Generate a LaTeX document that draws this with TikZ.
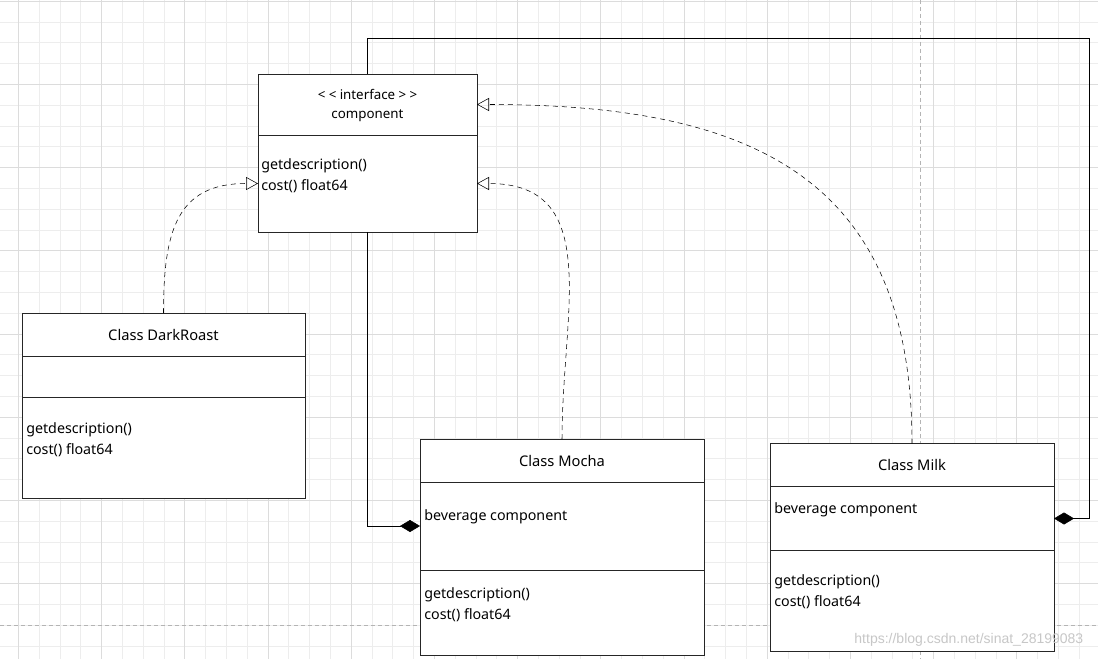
\documentclass[tikz,border=0pt]{standalone}
\usepackage{fontspec}
\setmainfont{Noto Sans}
\newfontfamily\markfont{Liberation Sans}
\usepackage{tikz}
\usetikzlibrary{calc, positioning, arrows.meta}
\definecolor{gridminor}{HTML}{EDEDED}
\definecolor{gridmajor}{HTML}{DCDCDC}
\definecolor{pagebreak}{HTML}{B4B4B4}
\tikzset{
	node distance = 0pt,
	line width = .75pt,
	font = \fontsize{10.7}{15.5}\selectfont,
	classpart/.style 2 args={
		draw=black!85,
		fill=white,
		rectangle,
		inner sep=0pt,
		outer sep=0pt,
		minimum width=#1*.75pt,
		minimum height=#2*.75pt,
		font=\fontsize{11}{12}\selectfont
	},
	classname/.style={
		align=center,
		inner sep=0pt,
		font=\fontsize{10}{14.25}\selectfont
	},
	member/.style={
		anchor=west,
		align=left,
		inner sep=0pt
	},
	realize/.style={
		dash pattern=on 3.75pt off 3pt,
		-{Triangle[open, length=9pt, width=9.75pt]}
	},
	compose/.style={
		-{Diamond[length=15pt, width=9pt]}
	}
}

\begin{document}
\begin{tikzpicture}[x=.75pt, y=-.75pt]
	\useasboundingbox[fill=white] (0,0) rectangle (1098,659);
	% canvas grid
	\foreach \i in {0,...,52}
		\draw[gridminor] (18.3+20.8*\i,0) -- (18.3+20.8*\i,659);
	\foreach \j in {0,...,31}
		\draw[gridminor] (0,1+20.8*\j) -- (1098,1+20.8*\j);
	\foreach \i in {0,...,13}
		\draw[gridmajor] (18.3+83.2*\i,0) -- (18.3+83.2*\i,659);
	\foreach \j in {0,...,7}
		\draw[gridmajor] (0,1+83.2*\j) -- (1098,1+83.2*\j);
	\draw[pagebreak, dash pattern=on 3pt off 2.25pt] (920,0) -- (920,659);
	\draw[pagebreak, dash pattern=on 3pt off 2.25pt] (0,625) -- (1098,625);

	% interface
	\node[classpart={219}{61}] (chead) at (367.5,104.5) {};
	\node[classname] (cname) at ([shift={(0,1.5)}]chead.center) {<\kern2.5pt<\kern2.5pt interface\kern2.5pt>\kern2.5pt>\\component};
	\node[classpart={219}{97}, below=of chead] (cbody) {};
	\node[member] (cops) at ([shift={(3,40.5)}]cbody.north west) {getdescription()\\cost() float64};

	% DarkRoast
	\node[classpart={283}{43}] (dhead) at (163.5,334.5) {Class DarkRoast};
	\node[classpart={283}{41}, below=of dhead] (dmid) {};
	\node[classpart={283}{101}, below=of dmid] (dbody) {};
	\node[member] (dops) at ([shift={(4,42.5)}]dbody.north west) {getdescription()\\cost() float64};

	% Mocha
	\node[classpart={284}{43}] (mhead) at (562,460.5) {Class Mocha};
	\node[classpart={284}{88}, below=of mhead] (mmid) {};
	\node[classpart={284}{85}, below=of mmid] (mbody) {};
	\node[member] (mfield) at ([shift={(4,35)}]mmid.north west) {beverage component};
	\node[member] (mops) at ([shift={(4,34.5)}]mbody.north west) {getdescription()\\cost() float64};

	% Milk
	\node[classpart={284}{43}] (khead) at (912,465) {Class Milk};
	\node[classpart={284}{64}, below=of khead] (kmid) {};
	\node[classpart={284}{101}, below=of kmid] (kbody) {};
	\node[member] (kfield) at ([shift={(4,23)}]kmid.north west) {beverage component};
	\node[member] (kops) at ([shift={(4,41.5)}]kbody.north west) {getdescription()\\cost() float64};

	\coordinate (corner) at (1089,38);

	\draw[realize] (dhead.north) to[out=90, in=180, looseness=1.3] (cbody.west);
	\draw[realize] (mhead.north) to[out=90, in=0, looseness=1.2] (cbody.east);
	\draw[realize] (khead.north) to[out=90, in=0, looseness=1.25] (chead.east);

	\draw[compose] (cbody.south) |- (mmid.west);
	\draw[compose] (chead.north) |- (corner) |- (kmid.east);

	\node[text=black!22, font=\markfont\fontsize{10.5}{12}\selectfont, anchor=east] (mark) at (1088,640) {https://blog.csdn.net/sinat\_28199083};
\end{tikzpicture}
\end{document}
